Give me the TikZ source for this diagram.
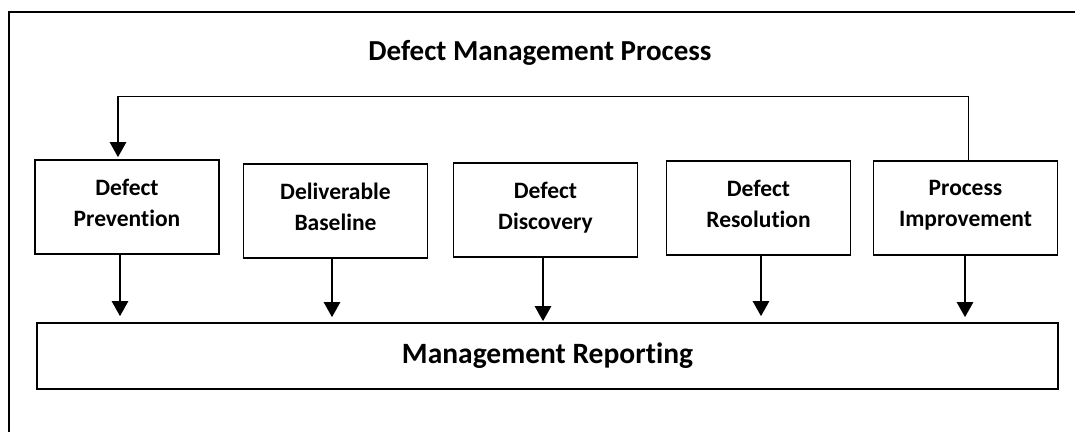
\documentclass[tikz,border=0pt]{standalone}
\usepackage{fontspec}
\setmainfont{Carlito}[RawFeature=-liga]
\usetikzlibrary{arrows.meta}
\begin{document}
\begin{tikzpicture}[x=1pt,y=-1pt,
  stagebox/.style={draw,line width=1.6pt,minimum width=184pt,minimum height=94pt,align=center,font=\fontsize{23.5}{31}\selectfont\bfseries,inner sep=0pt,text depth=9pt},
  arr/.style={line width=2.5pt,-{Triangle[width=16pt,length=15pt]}},
  fb/.style={line width=1pt}]
\useasboundingbox (0,0) rectangle (1075,432);
\draw[line width=2.2pt] (9,432) -- (9,12) -- (1075,12);
\node[font=\fontsize{29}{34}\selectfont\bfseries] (title) at (540,52.5) {Defect Management Process};
\node[stagebox] (b1) at (127,207) {Defect\\Prevention};
\node[stagebox] (b2) at (335.5,211) {Deliverable\\Baseline};
\node[stagebox] (b3) at (545.5,210) {Defect\\Discovery};
\node[stagebox] (b4) at (758.5,208) {Defect\\Resolution};
\node[stagebox] (b5) at (965.5,208) {Process\\Improvement};
\node[draw,line width=1.6pt,minimum width=1021pt,minimum height=66pt,inner sep=0pt,font=\fontsize{29.5}{34}\selectfont\bfseries] (mr) at (547.5,356) {Management Reporting};
\coordinate (fr) at (968,96);
\coordinate (fl) at (118,96);
\draw[fb] ([xshift=2.5pt]b5.north) -- (fr) -- (fl);
\draw[arr] (fl) -- ([yshift=2pt]fl |- b1.north);
\draw[arr] ([xshift=-7pt]b1.south) -- ([xshift=-7pt,yshift=6pt]b1.south |- mr.north);
\draw[arr] ([xshift=-3.5pt]b2.south) -- ([xshift=-3.5pt,yshift=5pt]b2.south |- mr.north);
\draw[arr] ([xshift=-2.5pt]b3.south) -- ([xshift=-2.5pt,yshift=1pt]b3.south |- mr.north);
\draw[arr] ([xshift=2.5pt]b4.south) -- ([xshift=2.5pt,yshift=6pt]b4.south |- mr.north);
\draw[arr] ([xshift=-0.5pt]b5.south) -- ([xshift=-0.5pt,yshift=5pt]b5.south |- mr.north);
\end{tikzpicture}
\end{document}
